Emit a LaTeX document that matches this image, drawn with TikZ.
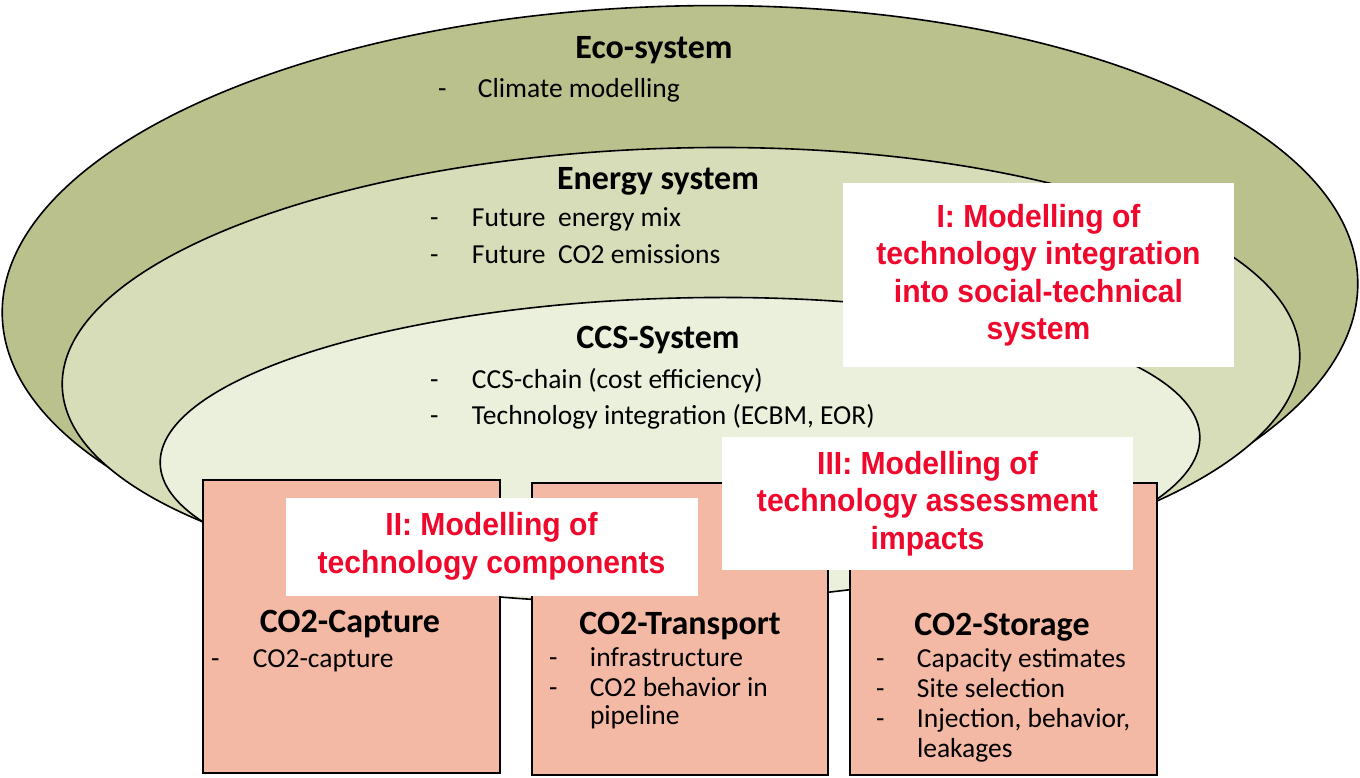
\documentclass[tikz,border=0pt]{standalone}
\usepackage{fontspec}
\setmainfont{Carlito}
\newfontfamily\labelfont[FakeStretch=0.94]{Liberation Sans}
\usepackage{tikz}
\usetikzlibrary{positioning}
\definecolor{ecogreen}{HTML}{BBC18C}
\definecolor{energygreen}{HTML}{D7DDB8}
\definecolor{ccsgreen}{HTML}{EAF0DC}
\definecolor{boxsalmon}{HTML}{F4B9A4}
\definecolor{labelred}{HTML}{F0082C}

\begin{document}
\begin{tikzpicture}[
    x=1pt, y=-1pt,
    every node/.style={inner sep=0pt, outer sep=0pt},
    layer/.style={draw=black, line width=1.6pt},
    compbox/.style={draw=black, line width=1.8pt, fill=boxsalmon},
    title/.style={font=\fontsize{34}{38}\selectfont\bfseries},
    entry/.style={font=\fontsize{27.5}{30}\selectfont, anchor=base west},
    redlabel/.style={fill=white, text=labelred, align=center,
        font=\labelfont\fontsize{32}{37.5}\selectfont\bfseries}
]
    \useasboundingbox (0,0) rectangle (1360,777);

    % Define layers
    \draw[layer, fill=ecogreen, rotate around={1.5:(680,298)}]
        (680,298) ellipse [x radius=678, y radius=292];
    \draw[layer, fill=energygreen, rotate around={1.5:(681,370)}]
        (681,370) ellipse [x radius=619, y radius=222];
    \draw[layer, fill=ccsgreen, rotate around={1.5:(680,450)}]
        (680,450) ellipse [x radius=520, y radius=152];

    % Layer texts
    \node[title] (eco) at (654,50) {Eco-system};
    \node[entry] (eco1) at (438,97) {\makebox[40pt][l]{-}Climate modelling};
    \node[title] (energy) at (658,181) {Energy system};
    \node[entry] (energy1) at (430,226) {\makebox[42pt][l]{-}Future\ \ energy mix};
    \node[entry] (energy2) at (430,263) {\makebox[42pt][l]{-}Future\ \ CO2 emissions};
    \node[title] (ccs) at (658,340) {CCS-System};
    \node[entry] (ccs1) at (430,388) {\makebox[42pt][l]{-}CCS-chain (cost efficiency)};
    \node[entry] (ccs2) at (430,424) {\makebox[42pt][l]{-}Technology integration (ECBM, EOR)};

    % Define component boxes
    \draw[compbox] (203,480) rectangle (500,773);
    \draw[compbox] (532,483) rectangle (828,775);
    \draw[compbox] (850,483) rectangle (1157,775);

    % Box texts
    \node[title] (capture) at (350,624) {CO2-Capture};
    \node[entry] (capture1) at (211,667) {\makebox[42pt][l]{-}CO2-capture};
    \node[title] (transport) at (680,626) {CO2-Transport};
    \node[entry] (transport1) at (549,666) {\makebox[41pt][l]{-}infrastructure};
    \node[entry] (transport2) at (549,696) {\makebox[41pt][l]{-}CO2 behavior in};
    \node[entry] (transport3) at (590,724) {pipeline};
    \node[title] (storage) at (1002,627) {CO2-Storage};
    \node[entry] (storage1) at (876,667) {\makebox[41pt][l]{-}Capacity estimates};
    \node[entry] (storage2) at (876,697) {\makebox[41pt][l]{-}Site selection};
    \node[entry] (storage3) at (876,727) {\makebox[41pt][l]{-}Injection, behavior,};
    \node[entry] (storage4) at (917,757) {leakages};

    % Modelling labels
    \node[redlabel, minimum width=391pt, minimum height=184pt] (modI) at (1038.5,275)
        {I: Modelling of\\technology integration\\into social-technical\\system};
    \node[redlabel, minimum width=412pt, minimum height=98pt] (modII) at (491.5,546.5)
        {II: Modelling of\\technology components};
    \node[redlabel, minimum width=411pt, minimum height=133pt] (modIII) at (927.5,503.5)
        {III: Modelling of\\technology assessment\\impacts};
\end{tikzpicture}
\end{document}
